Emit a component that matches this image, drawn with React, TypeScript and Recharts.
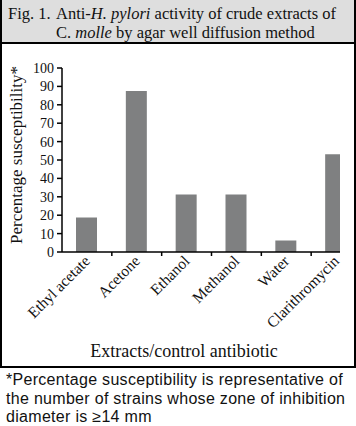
import React from 'react';
import { BarChart, Bar, XAxis, YAxis, Label } from 'recharts';

const extracts = ['Ethyl acetate', 'Acetone', 'Ethanol', 'Methanol', 'Water', 'Clarithromycin'];
const susceptibility = [18.75, 87.5, 31.25, 31.25, 6.25, 53.1];
const yTicks = [0, 10, 20, 30, 40, 50, 60, 70, 80, 90, 100];
const footnoteLines = [
  '*Percentage susceptibility is representative of',
  'the number of strains whose zone of inhibition',
  'diameter is ≥14 mm',
];

const data = extracts.map((name, i) => ({ name, value: susceptibility[i] }));

const SERIF = '"Liberation Serif", "DejaVu Serif", serif';
const SANS = '"Liberation Sans", Arial, sans-serif';

const CHART_W = 361;
const Y_AXIS_W = 62;
const STEP = (CHART_W - Y_AXIS_W) / extracts.length;

// label at the band centre, small tick mark at the band's right edge
const ExtractTick = ({ x, y, payload }: any) => {
  const ax = x + 4;
  const ay = y + 10;
  return (
    <g>
      <line x1={x + STEP / 2} x2={x + STEP / 2} y1={y} y2={y + 4} stroke="#000" strokeWidth={1.5} />
      <text
        x={ax}
        y={ay}
        transform={`rotate(-45, ${ax}, ${ay})`}
        textAnchor="end"
        fontSize={15.5}
        fontFamily={SERIF}
        fill="#111"
      >
        {payload.value}
      </text>
    </g>
  );
};

const YTitle = ({ viewBox }: any) => {
  const cx = viewBox.x + 22;
  const cy = viewBox.y + viewBox.height / 2 - 5;
  return (
    <text
      x={cx}
      y={cy}
      transform={`rotate(-90, ${cx}, ${cy})`}
      textAnchor="middle"
      fontSize={17}
      fontFamily={SERIF}
      fill="#111"
    >
      Percentage susceptibility*
    </text>
  );
};

export default function App() {
  return (
    <div
      style={{
        position: 'fixed',
        left: 0,
        top: 0,
        width: 356,
        height: 426,
        background: '#fff',
        overflow: 'hidden',
        fontFamily: SERIF,
        color: '#111',
      }}
    >
      {/* title band */}
      <div
        style={{
          position: 'absolute',
          left: 0,
          top: 0,
          width: 352,
          height: 42,
          background: '#dedede',
          borderLeft: '2px solid #000',
          borderRight: '2px solid #000',
          borderBottom: '2px solid #000',
          fontSize: 16.5,
          lineHeight: '19px',
        }}
      >
        <div style={{ position: 'absolute', left: 6, top: 4 }}>Fig. 1.</div>
        <div style={{ position: 'absolute', left: 54, top: 4, width: 300 }}>
          Anti-<i>H. pylori</i> activity of crude extracts of
          <br />
          C. <i>molle</i> by agar well diffusion method
        </div>
      </div>

      <div style={{ position: 'absolute', left: 0, top: 0 }}>
        <BarChart
          width={CHART_W}
          height={340}
          data={data}
          margin={{ top: 68, right: 0, bottom: 0, left: 0 }}
          barSize={21}
        >
          <XAxis
            dataKey="name"
            interval={0}
            height={88}
            tickSize={0}
            tickMargin={0}
            tickLine={false}
            axisLine={{ stroke: '#000', strokeWidth: 1.5 }}
            tick={<ExtractTick />}
          />
          <YAxis
            width={Y_AXIS_W}
            domain={[0, 100]}
            ticks={yTicks}
            interval={0}
            tickSize={5}
            tickMargin={3}
            axisLine={{ stroke: '#000', strokeWidth: 1.5 }}
            tickLine={{ stroke: '#000', strokeWidth: 1.5 }}
            tick={{ fill: '#111', fontSize: 14, fontFamily: SERIF }}
          >
            <Label content={<YTitle />} />
          </YAxis>
          <Bar dataKey="value" fill="#7f8081" isAnimationActive={false} />
        </BarChart>
      </div>

      {/* the original plot is cut off at its right edge */}
      <div style={{ position: 'absolute', left: 339.5, top: 46, width: 16, height: 208, background: '#fff' }} />
      <div style={{ position: 'absolute', left: 352, top: 254, width: 4, height: 112, background: '#fff' }} />

      {/* chart frame */}
      <div
        style={{
          position: 'absolute',
          left: 0,
          top: 44,
          width: 352,
          height: 322,
          borderLeft: '2px solid #000',
          borderRight: '2px solid #000',
          borderBottom: '2px solid #000',
        }}
      />

      <div
        style={{
          position: 'absolute',
          left: 60,
          top: 341,
          width: 248,
          textAlign: 'center',
          fontSize: 18,
          lineHeight: '20px',
          fontFamily: SERIF,
        }}
      >
        Extracts/control antibiotic
      </div>

      {/* footnote */}
      {footnoteLines.map((line, i) => (
        <div
          key={i}
          style={{
            position: 'absolute',
            left: 6,
            top: 371 + i * 18.5,
            fontFamily: SANS,
            fontSize: 16,
            letterSpacing: 0.3,
            lineHeight: '18px',
            whiteSpace: 'nowrap',
          }}
        >
          {line}
        </div>
      ))}
    </div>
  );
}
